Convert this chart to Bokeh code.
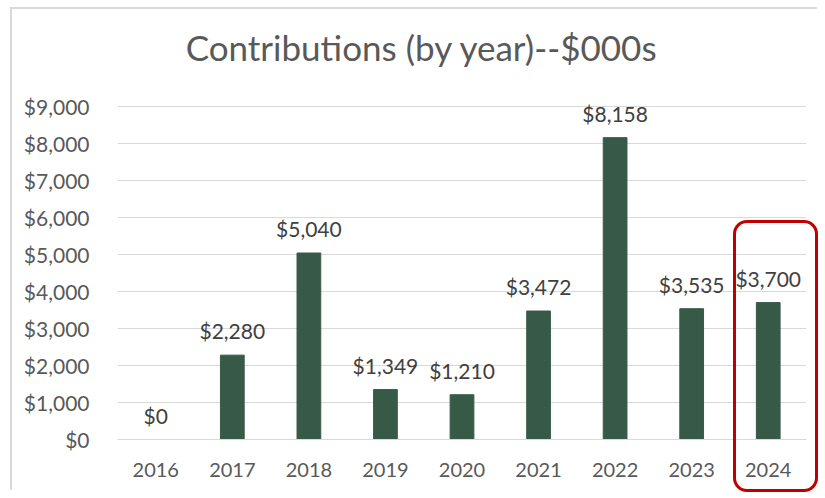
from bokeh.plotting import figure
from bokeh.models import ColumnDataSource, LabelSet, Label, FixedTicker, NumeralTickFormatter, Range1d, FactorRange, InlineStyleSheet
from bokeh.core.properties import value
from bokeh.embed import file_html
from bokeh.resources import INLINE

years = ["2016", "2017", "2018", "2019", "2020", "2021", "2022", "2023", "2024"]
contributions = [0, 2280, 5040, 1349, 1210, 3472, 8158, 3535, 3700]
y_ticks = [0, 1000, 2000, 3000, 4000, 5000, 6000, 7000, 8000, 9000]
title_text = "Contributions (by year)--$000s"

FONT = "Lato"
BAR = "#375A48"
TXT = "#595959"

labels = ["${:,}".format(v) for v in contributions]
src = ColumnDataSource(dict(year=years, val=contributions, lab=labels))

# frame extends above the top gridline so the title can sit inside it
p = figure(width=817, height=490, x_range=FactorRange(*years), y_range=Range1d(0, 11486),
           output_backend="svg", toolbar_location=None,
           min_border_left=117, min_border_right=11, min_border_top=14, min_border_bottom=51)

p.vbar(x="year", top="val", width=0.31, source=src, fill_color=BAR, line_color=BAR)

p.add_layout(LabelSet(x="year", y="val", text="lab", source=src, y_offset=16,
                      text_align="center", text_baseline="alphabetic",
                      text_font=value(FONT), text_font_size="21px", text_color="#404040"))

p.add_layout(Label(x=3.977, y=10620, text=title_text, text_align="center", text_baseline="alphabetic",
                   text_font=FONT, text_font_size="35px", text_color=TXT))

p.xgrid.grid_line_color = None
p.ygrid.grid_line_color = "#D9D9D9"
p.ygrid.ticker = FixedTicker(ticks=y_ticks)
p.outline_line_color = None

p.yaxis.ticker = FixedTicker(ticks=y_ticks)
p.yaxis.formatter = NumeralTickFormatter(format="$0,0")
p.yaxis.axis_line_color = None
p.yaxis.major_tick_line_color = None
p.yaxis.minor_tick_line_color = None
p.yaxis.major_label_standoff = 22
p.yaxis.major_label_text_font = FONT
p.yaxis.major_label_text_font_size = "21px"
p.yaxis.major_label_text_color = TXT

p.xaxis.axis_line_color = "#D9D9D9"
p.xaxis.major_tick_line_color = None
p.xaxis.major_label_standoff = 17
p.xaxis.major_label_text_font = FONT
p.xaxis.major_label_text_font_size = "20px"
p.xaxis.major_label_text_color = TXT

p.stylesheets = [InlineStyleSheet(css=(
    ":host::before { content: ''; position: absolute; box-sizing: border-box; "
    "left: 10px; top: 7px; width: 807px; height: 483px; "
    "border-left: 2px solid #D9D9D9; border-top: 2px solid #D9D9D9; pointer-events: none; z-index: 5; }"
    ":host::after { content: ''; position: absolute; box-sizing: border-box; "
    "left: 733px; top: 220px; width: 85px; height: 272px; "
    "border: 3px solid #C00000; border-radius: 14px; pointer-events: none; z-index: 10; }"))]

open("out.html", "w").write(file_html(p, INLINE))
